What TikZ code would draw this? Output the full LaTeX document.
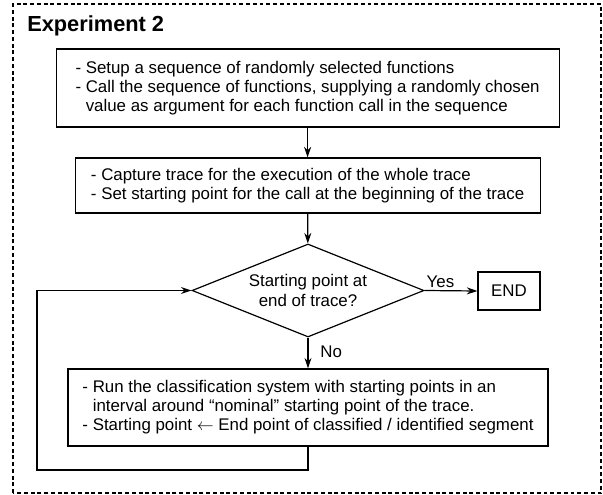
\documentclass[tikz,border=0pt]{standalone}
\usepackage{fontspec}
\setmainfont{Liberation Sans}
\usetikzlibrary{shapes.geometric,arrows.meta}

\begin{document}
\begin{tikzpicture}[
  font=\fontsize{12}{13.6}\selectfont,
  stepbox/.style={draw,line width=.3mm,align=left,inner sep=0pt},
  flow/.style={line width=.3mm,-{Stealth[length=7.5pt,width=5pt]}},
]
\useasboundingbox (0,0) rectangle (15.075,12.35);
\draw[line width=.3mm,dash pattern=on 2.8pt off 2pt] (0.325,0.025) rectangle (15.025,12.25);
\node[anchor=base west,inner sep=0pt,font=\fontsize{15.5}{18}\selectfont\bfseries] (title) at (0.675,11.55) {Experiment 2};

\node[stepbox,minimum width=12.575cm,minimum height=1.95cm] (setup) at (7.69,10.15)
  {- Setup a sequence of randomly selected functions\\
   - Call the sequence of functions, supplying a randomly chosen\\
   \phantom{- }value as argument for each function call in the sequence};
\node[stepbox,minimum width=11.625cm,minimum height=1.375cm] (capture) at (7.69,7.7125)
  {- Capture trace for the execution of the whole trace\\
   - Set starting point for the call at the beginning of the trace};
\node[draw,line width=.3mm,diamond,aspect=2.5,inner sep=0pt,align=center,
      minimum width=5.8cm,minimum height=2.325cm] (check) at (7.7,5.0875)
  {Starting point at\\end of trace?};
\node[stepbox,align=center,minimum width=1.55cm,minimum height=.95cm] (stop) at (12.725,5.075) {END};
\node[stepbox,minimum width=12cm,minimum height=1.925cm] (classify) at (7.7,2.1625)
  {- Run the classification system with starting points in an\\
   \phantom{- }interval around ``nominal'' starting point of the trace.\\
   - Starting point $\leftarrow$ End point of classified / identified segment};
\coordinate (loop) at (0.925,0.6);

\draw[flow] (setup) -- (capture);
\draw[flow] (capture) -- (check);
\draw[flow] (check.east) -- node[above,pos=.3,inner sep=2pt] {Yes} (stop.west);
\draw[flow] (check.south) -- node[right,pos=.45,xshift=5pt] {No} (classify.north);
\draw[flow] (classify.south) |- (loop) |- (check.west);
\end{tikzpicture}
\end{document}
